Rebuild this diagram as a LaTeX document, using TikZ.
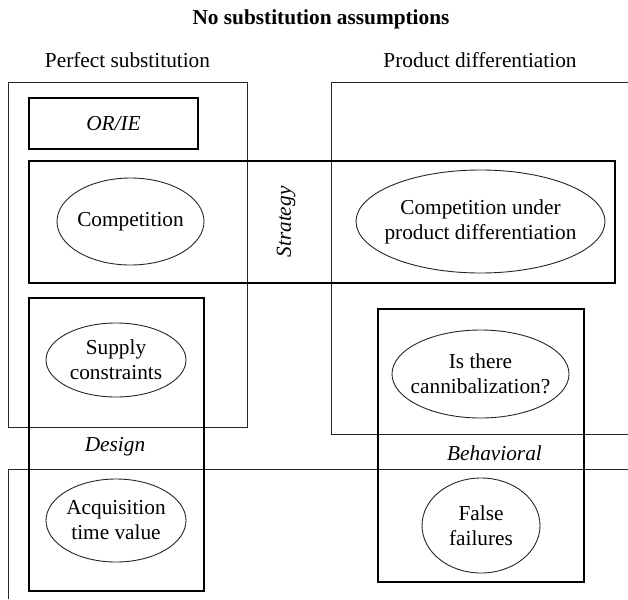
\documentclass[tikz,border=0pt]{standalone}
\usepackage{fontspec}
\setmainfont{Liberation Serif}
\begin{document}
\begin{tikzpicture}[x=1pt,y=-1pt,
  thinbox/.style={draw=black!85,line width=1pt},
  thickbox/.style={draw=black,line width=2.8pt},
  topic/.style={inner sep=0pt,align=center,font=\fontsize{21.3}{25}\selectfont},
  ell/.style={draw=black!85,line width=0.9pt},
  lbl/.style={font=\fontsize{21.3}{25}\selectfont,inner sep=0pt},
  ilbl/.style={font=\fontsize{21.3}{25}\selectfont\itshape,inner sep=0pt}]
\useasboundingbox (0,0) rectangle (628,599);
% titles
\node[lbl,font=\fontsize{21.3}{25}\selectfont\bfseries] (title) at (321,19) {No substitution assumptions};
\node[lbl] (ps) at (127.5,60) {Perfect substitution};
\node[lbl] (pd) at (480,60) {Product differentiation};
% thin region boxes
\draw[thinbox] (8,83) rectangle (247,427);
\draw[thinbox] (628,83) -- (331,83) -- (331,434) -- (628,434);
\draw[thinbox] (8,599) -- (8,469) -- (628,469);
% thick boxes
\draw[thickbox] (29,98) rectangle (198,149);
\draw[thickbox] (29,161) rectangle (615,283);
\draw[thickbox] (29,298) rectangle (204,591);
\draw[thickbox] (378,309) rectangle (584,582);
% italic labels
\node[ilbl] (orie) at (113.5,124) {OR/IE};
\node[ilbl,rotate=90] (strategy) at (286,222) {Strategy};
\node[ilbl] (design) at (115,447) {Design};
\node[ilbl] (behav) at (494.5,453) {Behavioral};
% topics
\node[topic] (comp) at (130.5,221.5) {Competition};
\draw[ell] (comp.center) ellipse [x radius=73.5pt, y radius=43.5pt];
\node[topic] (cpd) at (480.5,221.5) {Competition under\\product differentiation};
\draw[ell] (cpd.center) ellipse [x radius=124.5pt, y radius=51.5pt];
\node[topic] (supply) at (116,360) {Supply\\constraints};
\draw[ell] (supply.center) ellipse [x radius=70pt, y radius=37pt];
\node[topic] (cann) at (480.5,374) {Is there\\cannibalization?};
\draw[ell] (cann.center) ellipse [x radius=88.5pt, y radius=44pt];
\node[topic] (acq) at (116,520.5) {Acquisition\\time value};
\draw[ell] (acq.center) ellipse [x radius=70pt, y radius=41.5pt];
\node[topic] (false) at (481,525.5) {False\\failures};
\draw[ell] (false.center) ellipse [x radius=59pt, y radius=47.5pt];
\end{tikzpicture}
\end{document}
